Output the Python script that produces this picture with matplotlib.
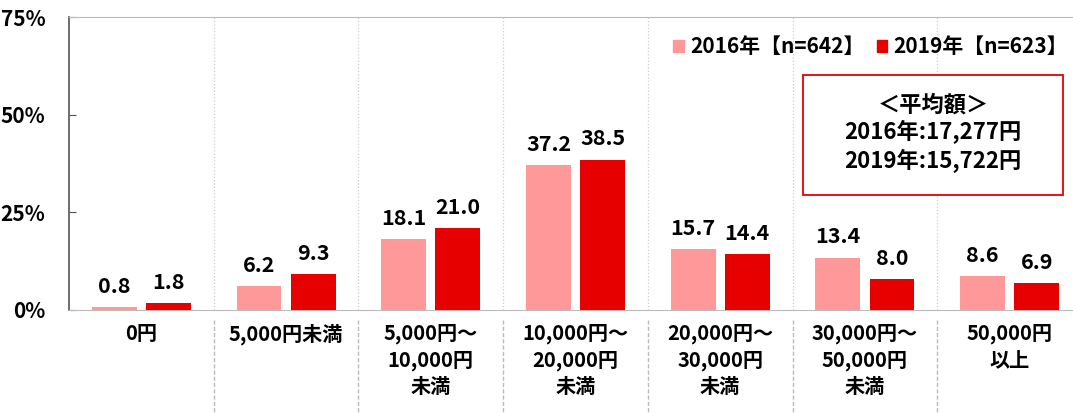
import matplotlib
matplotlib.use('Agg')
import matplotlib.pyplot as plt
from matplotlib.patches import Rectangle, Patch
import numpy as np

plt.rcParams['font.family'] = ['Noto Sans CJK JP', 'DejaVu Sans']

categories = ['0円', '5,000円未満', '5,000円～\n10,000円\n未満', '10,000円～\n20,000円\n未満',
              '20,000円～\n30,000円\n未満', '30,000円～\n50,000円\n未満', '50,000円\n以上']
vals_2016 = [0.8, 6.2, 18.1, 37.2, 15.7, 13.4, 8.6]
vals_2019 = [1.8, 9.3, 21.0, 38.5, 14.4, 8.0, 6.9]
series_labels = ['2016年【n=642】', '2019年【n=623】']
y_ticks = [0, 25, 50, 75]
avg_text = '＜平均額＞\n2016年:17,277円\n2019年:15,722円'

c16 = '#FF9999'
c19 = '#E60000'

fig = plt.figure(figsize=(10.73, 4.13), dpi=100)
ax = fig.add_axes([69/1073, 103/413, 1013/1073, 293/413])

x = np.arange(len(categories))
w = 0.31
off = 0.187
ax.bar(x - off, vals_2016, w, color=c16, zorder=3)
ax.bar(x + off, vals_2019, w, color=c19, zorder=3)

for xi, v in zip(x - off, vals_2016):
    ax.text(xi, v + 2.6, f'{v:.1f}', ha='center', va='bottom', fontsize=15.5, fontweight='bold')
for xi, v in zip(x + off, vals_2019):
    ax.text(xi, v + 2.6, f'{v:.1f}', ha='center', va='bottom', fontsize=15.5, fontweight='bold')

ax.set_xlim(-0.5, len(categories) - 0.5)
ax.set_ylim(0, 75)
ax.set_yticks(y_ticks)
ax.set_yticklabels([f'{t}%' for t in y_ticks], fontsize=15, fontweight='bold')
ax.tick_params(axis='y', direction='in', length=5, color='#555555', pad=17)
ax.set_xticks([])

for s in ['top', 'bottom', 'right']:
    ax.spines[s].set_color('#BBBBBB')
ax.spines['left'].set_color('#555555')
ax.spines['left'].set_linewidth(1.2)

# category separators
trans = ax.get_xaxis_transform()
for i in range(len(categories) - 1):
    ax.plot([i + 0.5, i + 0.5], [0, 1], transform=trans, color='#CCCCCC', lw=0.9, ls=':', zorder=1)
    ax.plot([i + 0.5, i + 0.5], [-0.035, -0.36], transform=trans, color='#BBBBBB', lw=1.0,
            ls=(0, (3, 1.5)), clip_on=False)

for xi, lab in zip(x, categories):
    ax.text(xi, -0.045, lab, transform=trans, ha='center', va='top', fontsize=14.5,
            fontweight='bold', linespacing=1.3)

handles = [Patch(color=c16), Patch(color=c19)]
fig.legend(handles, series_labels, loc='upper right', bbox_to_anchor=(1068/1073, 1 - 36/413),
           ncol=2, frameon=False, handlelength=0.5, handleheight=0.5,
           handletextpad=0.3, columnspacing=0.6, borderaxespad=0, borderpad=0,
           prop={'weight': 'bold', 'size': 15})

ax.add_patch(Rectangle((0.7246, 0.392), 0.2567, 0.41, transform=ax.transAxes, fill=True,
                       facecolor='white', edgecolor=c19, lw=1.3, zorder=4))
ax.text(0.853, 0.604, avg_text, transform=ax.transAxes, ha='center', va='center', fontsize=16,
        fontweight='bold', linespacing=1.22, zorder=5)

fig.savefig('out.png', dpi=100)
